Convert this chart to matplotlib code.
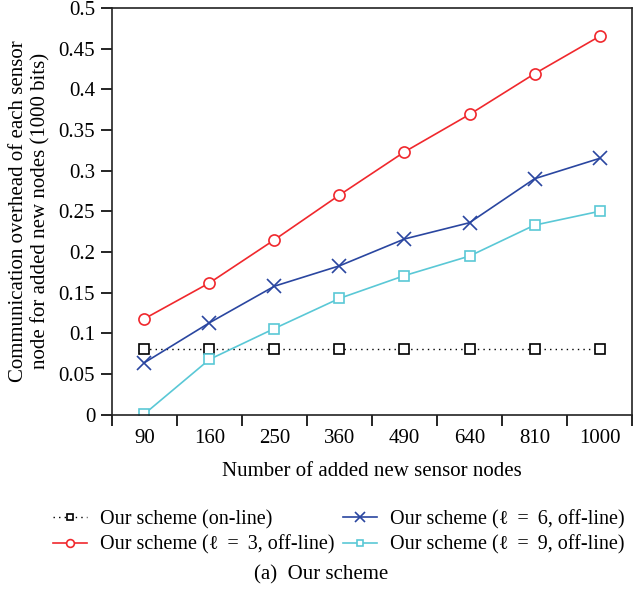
import matplotlib
matplotlib.use("Agg")
import matplotlib.pyplot as plt

categories = ["90", "160", "250", "360", "490", "640", "810", "1000"]
online = [0.081, 0.081, 0.081, 0.081, 0.081, 0.081, 0.081, 0.081]
l3 = [0.118, 0.162, 0.215, 0.270, 0.323, 0.369, 0.419, 0.465]
l6 = [0.064, 0.113, 0.158, 0.183, 0.216, 0.236, 0.290, 0.315]
l9 = [0.001, 0.068, 0.106, 0.143, 0.171, 0.195, 0.233, 0.250]
yticks = [0, 0.05, 0.1, 0.15, 0.2, 0.25, 0.3, 0.35, 0.4, 0.45, 0.5]
ytick_labels = ["0", "0.05", "0.1", "0.15", "0.2", "0.25", "0.3", "0.35", "0.4", "0.45", "0.5"]
labels = ["Our scheme (on-line)",
          "Our scheme (\u2113 \u2009=\u2009 3, off-line)",
          "Our scheme (\u2113 \u2009=\u2009 6, off-line)",
          "Our scheme (\u2113 \u2009=\u2009 9, off-line)"]

plt.rcParams['font.family'] = ['Liberation Serif', 'DejaVu Serif']

fig = plt.figure(figsize=(6.43, 6.02), dpi=100)
ax = fig.add_axes([0.174, 0.311, 0.809, 0.676])

x = [i + 0.5 for i in range(len(categories))]

h0, = ax.plot(x, online, linestyle=(0, (1, 3)), color='black', lw=1.0,
              marker='s', ms=7, mfc='white', mec='black', mew=1.2)
h1, = ax.plot(x, l3, color='#f0282d', lw=1.2, marker='o', ms=8, mfc='white',
              mec='#f0282d', mew=1.2)
h2, = ax.plot(x, l6, color='#2a46a0', lw=1.2, marker='x', ms=10, mew=1.2)
h3, = ax.plot(x, l9, color='#5ac8d6', lw=1.2, marker='s', ms=7, mfc='white',
              mec='#5ac8d6', mew=1.2)

ax.set_xlim(0, 8)
ax.set_ylim(0, 0.5)
ax.set_xticks(range(9))
ax.set_xticklabels([])
ax.set_xticks(x, minor=True)
ax.set_xticklabels(categories, minor=True)
ax.tick_params(axis='x', which='minor', length=0, pad=10, labelsize=15)
ax.tick_params(axis='x', which='major', direction='out', length=8, width=1.2)
ax.set_yticks(yticks)
ax.set_yticklabels(ytick_labels)
ax.tick_params(axis='y', direction='out', length=8, width=1.2, labelsize=15, pad=4)
for s in ax.spines.values():
    s.set_linewidth(1.2)
    s.set_color('#222222')

ax.set_xlabel('Number of added new sensor nodes', fontsize=15, labelpad=10)
ax.set_ylabel('Communication overhead of each sensor\nnode for added new nodes (1000 bits)',
              fontsize=15, labelpad=6, linespacing=1.2)

fig.legend([h0, h1, h2, h3], labels,
           loc='upper left', bbox_to_anchor=(0.07, 0.166), ncol=2, frameon=False,
           fontsize=14.5, handlelength=1.7, handletextpad=0.65, columnspacing=0.4,
           labelspacing=0.28, borderaxespad=0, markerscale=0.7)
fig.text(0.5, 0.045, '(a)  Our scheme', ha='center', va='center', fontsize=15)

fig.savefig('out.png', dpi=100)
